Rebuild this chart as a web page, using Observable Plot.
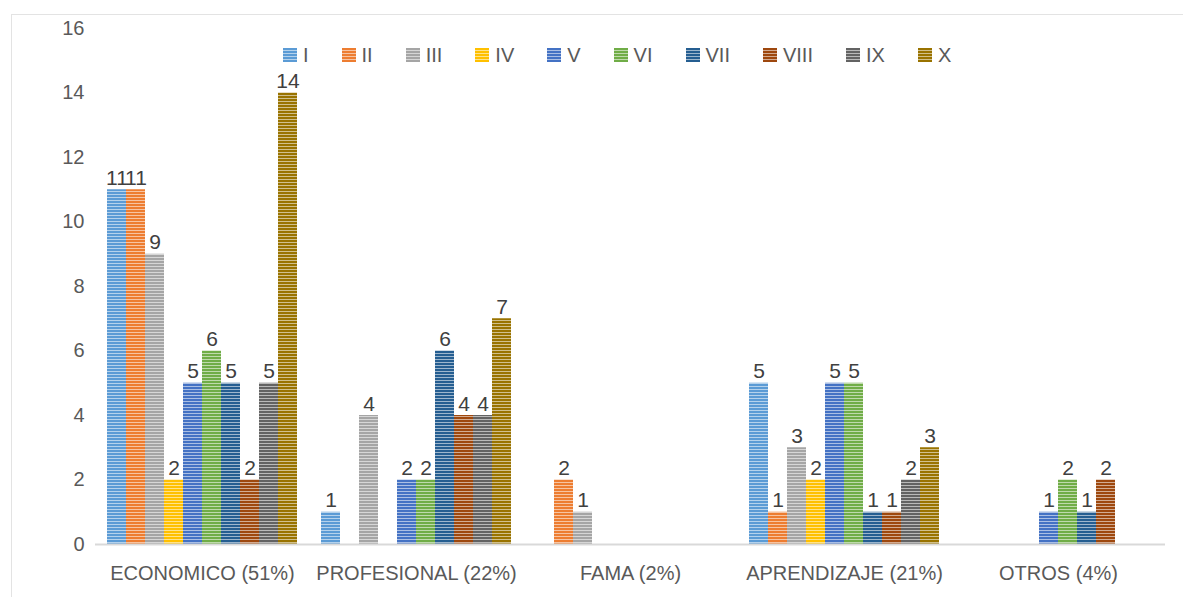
<!DOCTYPE html>
<html>
<head>
<meta charset="utf-8">
<script src="https://cdn.jsdelivr.net/npm/d3@7"></script>
<script src="https://cdn.jsdelivr.net/npm/@observablehq/plot@0.6"></script>
<style>
  html, body { margin: 0; padding: 0; background: #fff; }
  #wrap { position: relative; width: 1183px; height: 597px; overflow: hidden; font-family: "Liberation Sans", Arial, sans-serif; }
  #frame { position: absolute; left: 11px; top: 14px; width: 1300px; height: 700px; border: 1px solid #e3e3e3; box-sizing: border-box; }
  #chart { position: absolute; left: 0; top: 0; }
  #legend { position: absolute; left: 283px; top: 44px; display: flex; align-items: center; height: 22px; font-size: 20px; color: #595959; }
  .item { display: flex; align-items: center; margin-right: 33px; }
  .item svg { margin-right: 6px; }
</style>
</head>
<body>
<div id="wrap">
  <div id="frame"></div>
  <div id="chart"></div>
  <div id="legend"></div>
</div>
<script>
const categories = ["ECONOMICO (51%)", "PROFESIONAL (22%)", "FAMA (2%)", "APRENDIZAJE (21%)", "OTROS (4%)"];
const series = ["I", "II", "III", "IV", "V", "VI", "VII", "VIII", "IX", "X"];
const colors = ["#5B9BD5", "#ED7D31", "#A5A5A5", "#FFC000", "#4472C4", "#70AD47", "#255E91", "#9E480E", "#636363", "#997300"];
// values per category, in series order I..X
const economico   = [11, 11, 9, 2, 5, 6, 5, 2, 5, 14];
const profesional = [1, 0, 4, 0, 2, 2, 6, 4, 4, 7];
const fama        = [0, 2, 1, 0, 0, 0, 0, 0, 0, 0];
const aprendizaje = [5, 1, 3, 2, 5, 5, 1, 1, 2, 3];
const otros       = [0, 0, 0, 0, 1, 2, 1, 2, 0, 0];
const yTicks = [0, 2, 4, 6, 8, 10, 12, 14, 16];

const table = [economico, profesional, fama, aprendizaje, otros];
const data = [];
categories.forEach((c, i) => series.forEach((s, j) => {
  if (table[i][j] > 0) data.push({cat: c, series: s, value: table[i][j]});
}));

const patId = s => "pat-" + s;
const font = "'Liberation Sans', Arial, sans-serif";

const chart = Plot.plot({
  width: 1183,
  height: 597,
  marginLeft: 95,
  marginRight: 18,
  marginTop: 28,
  marginBottom: 53,
  style: {fontFamily: font, fontSize: "20px", color: "#595959", background: "transparent"},
  fx: {domain: categories, padding: 0, axis: "bottom", tickSize: 0, tickPadding: 21, label: null},
  x: {domain: series, paddingInner: 0, paddingOuter: 0.4, axis: null},
  y: {domain: [0, 16], ticks: yTicks, tickSize: 0, tickPadding: 11, label: null, tickFormat: d => d},
  color: {type: "ordinal", domain: series, range: series.map(s => `url(#${patId(s)})`)},
  marks: [
    Plot.barY(data, {fx: "cat", x: "series", y: "value", fill: "series"}),
    Plot.ruleY([0], {stroke: "#d9d9d9", strokeWidth: 2}),
    Plot.text(data, {fx: "cat", x: "series", y: "value", text: d => String(d.value), dy: -5, lineAnchor: "bottom", fill: "#404040", fontSize: 21})
  ]
});

// patterns (narrow horizontal stripes)
const svg = d3.select(chart);
const defs = svg.insert("defs", ":first-child");
series.forEach((s, i) => {
  const p = defs.append("pattern").attr("id", patId(s))
    .attr("patternUnits", "userSpaceOnUse").attr("width", 6).attr("height", 3);
  p.append("rect").attr("width", 6).attr("height", 3).attr("fill", colors[i]);
  p.append("rect").attr("y", 2).attr("width", 6).attr("height", 1).attr("fill", "#fff").attr("fill-opacity", 0.55);
});
document.getElementById("chart").appendChild(chart);

// legend
const legend = d3.select("#legend");
series.forEach(s => {
  const it = legend.append("div").attr("class", "item");
  const sw = it.append("svg").attr("width", 14).attr("height", 14);
  sw.append("rect").attr("width", 14).attr("height", 14).attr("fill", `url(#${patId(s)})`);
  it.append("span").text(s);
});
</script>
</body>
</html>
